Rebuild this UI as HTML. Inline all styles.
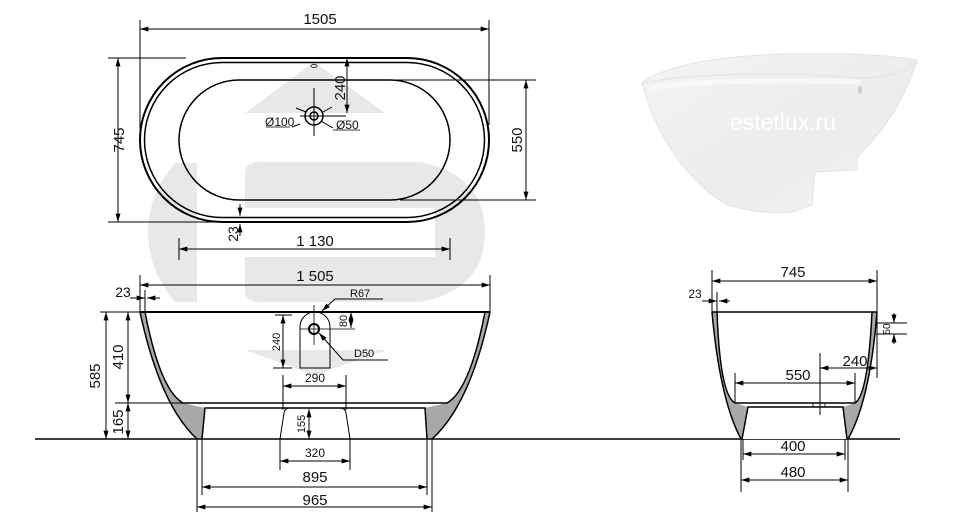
<!DOCTYPE html>
<html><head><meta charset="utf-8"><style>
html,body{margin:0;padding:0;background:#fff;}
svg{display:block;}
text{font-family:"Liberation Sans",sans-serif;fill:#111;}
</style></head><body>
<svg width="964" height="512" viewBox="0 0 964 512" xmlns="http://www.w3.org/2000/svg">
<defs>
<marker id="a" viewBox="0 0 10 6" refX="10" refY="3" markerWidth="10" markerHeight="5" markerUnits="userSpaceOnUse" orient="auto-start-reverse"><path d="M0,0 L10,3 L0,6 z" fill="#000"/></marker>
<linearGradient id="tub" x1="0" y1="0" x2="1" y2="1"><stop offset="0" stop-color="#f4f4f4"/><stop offset="0.6" stop-color="#ececec"/><stop offset="1" stop-color="#f7f7f7"/></linearGradient>
</defs>

<!-- watermark -->
<g fill="#e8e8e8">
<path d="M245,113 L314,62 L385,113 Z"/>
<path d="M197,163 L197,302 L175,302 Q148,270 148,232 Q148,195 175,163 Z"/>
<path d="M245,175 Q245,162 258,162 L420,162 Q485,175 485,232 Q485,290 420,302 L258,302 Q245,302 245,290 Z"/>
<path d="M245,350 L387,350 L314,375 Z"/>
</g>
<rect x="245" y="208" width="190" height="49" fill="#fff"/>

<g stroke="#000" fill="none">
<!-- top view -->
<rect x="140" y="58" width="349" height="164" rx="82" stroke-width="2"/>
<rect x="144.5" y="62.5" width="340" height="155" rx="77.5" stroke-width="1.5"/>
<rect x="179" y="80" width="271" height="120" rx="60" stroke-width="1.5"/>
<circle cx="314" cy="116" r="9" stroke-width="1.5"/>
<circle cx="314" cy="116" r="4" stroke-width="1.5"/>
<path d="M314,88 V136 M300,116 H346" stroke-width="1"/>
<path d="M296,108 L306,112 M332,107 L323,112 M300,124 L292,127 M321,121 L333,128" stroke-width="1"/>
<path d="M266,127 H290 M333,130 H360" stroke-width="0.8"/>
<ellipse cx="314" cy="66" rx="3" ry="1.5" stroke-width="0.8"/>
<g stroke-width="1">
<path d="M140,20 V140 M489,20 V125"/>
<path d="M140,29 H489" marker-start="url(#a)" marker-end="url(#a)"/>
<path d="M108,58 H186 M108,222 H400"/>
<path d="M118,58 V222" marker-start="url(#a)" marker-end="url(#a)"/>
<path d="M300,80 H536 M400,200 H536"/>
<path d="M526,80 V200" marker-start="url(#a)" marker-end="url(#a)"/>
<path d="M347,58 V113" marker-start="url(#a)" marker-end="url(#a)"/>
<path d="M240,204 V216" marker-end="url(#a)"/>
<path d="M240,236 V224" marker-end="url(#a)"/>
<path d="M179,238 V260 M450,238 V260"/>
<path d="M179,249 H450" marker-start="url(#a)" marker-end="url(#a)"/>
</g>
</g>
<text x="320" y="24" font-size="15" text-anchor="middle">1505</text>
<text transform="translate(124,140) rotate(-90)" font-size="15" text-anchor="middle">745</text>
<text transform="translate(522,140) rotate(-90)" font-size="15" text-anchor="middle">550</text>
<text transform="translate(345,88) rotate(-90)" font-size="15" text-anchor="middle">240</text>
<text transform="translate(238,234) rotate(-90)" font-size="14" text-anchor="middle">23</text>
<text x="315" y="246" font-size="15" text-anchor="middle">1 130</text>
<text x="265" y="126" font-size="12">Ø100</text>
<text x="336" y="129" font-size="12">Ø50</text>

<!-- front view -->
<path d="M140,312 Q160,405 197,439 L432,439 Q470,405 490,312 L485,312 Q470,390 447,403 L183,403 Q160,390 145,312 Z" fill="#a8a8a8"/>
<path d="M183,403 L447,403 L425,408 L427,439 L202,439 L205,408 Z" fill="#fff"/>
<g stroke="#000" fill="none">
<path d="M140,312 Q160,405 197,439 M490,312 Q470,405 432,439" stroke-width="1.5"/>
<path d="M145,312 Q160,390 183,403 L447,403 Q470,390 485,312" stroke-width="1.5"/>
<path d="M140,312 H490" stroke-width="2"/>
<path d="M202,439 L205,408 L425,408 L427,439" stroke-width="1.5"/>
<path d="M35,439 H900" stroke-width="1.5"/>
<path d="M300,368 V327 A15,15 0 0 1 330,327 V368 Z" stroke-width="1"/>
<circle cx="314" cy="329" r="5" stroke-width="2"/>
<path d="M314,305 V345 M300,329 H355" stroke-width="0.8"/>
<path d="M280,439 L284,413 Q285,408 290,408 M350,439 L346,413 Q345,408 340,408" stroke-width="1"/>
<g stroke-width="1">
<path d="M140,275 V312 M490,275 V312"/>
<path d="M140,285 H490" marker-start="url(#a)" marker-end="url(#a)"/>
<path d="M145,290 V312"/>
<path d="M130,298 H145" marker-end="url(#a)"/>
<path d="M160,298 H147" marker-end="url(#a)"/>
<path d="M100,312 H140 M115,403 H185"/>
<path d="M106,312 V439" marker-start="url(#a)" marker-end="url(#a)"/>
<path d="M128,312 V403" marker-start="url(#a)" marker-end="url(#a)"/>
<path d="M128,403 V439" marker-start="url(#a)" marker-end="url(#a)"/>
<path d="M275,315 H292 M273,368 H292"/>
<path d="M283,315 V368" marker-start="url(#a)" marker-end="url(#a)"/>
<path d="M330,312 H356"/>
<path d="M351,312 V328" marker-start="url(#a)" marker-end="url(#a)"/>
<path d="M383,299 H335 L322,311" marker-end="url(#a)"/>
<path d="M388,360 H343 L319,333" marker-end="url(#a)"/>
<path d="M283,375 V410 M346,375 V410"/>
<path d="M283,386 H346" marker-start="url(#a)" marker-end="url(#a)"/>
<path d="M309,409 V439" marker-start="url(#a)" marker-end="url(#a)"/>
<path d="M280,439 V470 M350,439 V470"/>
<path d="M280,461 H350" marker-start="url(#a)" marker-end="url(#a)"/>
<path d="M202,439 V495 M427,439 V495 M197,439 V512 M432,439 V512"/>
<path d="M202,487 H427" marker-start="url(#a)" marker-end="url(#a)"/>
<path d="M197,507 H432" marker-start="url(#a)" marker-end="url(#a)"/>
</g>
</g>
<text x="315" y="281" font-size="15" text-anchor="middle">1 505</text>
<text x="123" y="297" font-size="14" text-anchor="middle">23</text>
<text transform="translate(100,376) rotate(-90)" font-size="15" text-anchor="middle">585</text>
<text transform="translate(123,357) rotate(-90)" font-size="15" text-anchor="middle">410</text>
<text transform="translate(123,422) rotate(-90)" font-size="15" text-anchor="middle">165</text>
<text transform="translate(280,342) rotate(-90)" font-size="11" text-anchor="middle">240</text>
<text transform="translate(347,321) rotate(-90)" font-size="11" text-anchor="middle">80</text>
<text x="350" y="297" font-size="11">R67</text>
<text x="354" y="357" font-size="11">D50</text>
<text x="315" y="382" font-size="12" text-anchor="middle">290</text>
<text transform="translate(305,424) rotate(-90)" font-size="11" text-anchor="middle">155</text>
<text x="315" y="457" font-size="12" text-anchor="middle">320</text>
<text x="315" y="482" font-size="15" text-anchor="middle">895</text>
<text x="315" y="505" font-size="15" text-anchor="middle">965</text>

<!-- side view -->
<path d="M712,312 Q720,400 741,439 L848,439 Q870,400 877,312 L872,312 Q868,395 855,403 L735,403 Q720,395 717,312 Z" fill="#a8a8a8"/>
<path d="M735,403 L855,403 L843,407 L847,439 L742,439 L748,407 Z" fill="#fff"/>
<g stroke="#000" fill="none">
<path d="M712,312 Q720,400 741,439 M877,312 Q870,400 848,439" stroke-width="1.5"/>
<path d="M717,312 Q720,395 735,403 L855,403 Q868,395 872,312" stroke-width="1.5"/>
<path d="M712,312 H877" stroke-width="1.5"/>
<path d="M742,439 L748,407 L843,407 L847,439" stroke-width="1.5"/>
<rect x="813" y="403" width="12" height="4" stroke-width="0.8"/>
<g stroke-width="1">
<path d="M712,270 V312 M877,270 V378"/>
<path d="M712,281 H877" marker-start="url(#a)" marker-end="url(#a)"/>
<path d="M717,292 V312"/>
<path d="M702,301 H717" marker-end="url(#a)"/>
<path d="M730,301 H719" marker-end="url(#a)"/>
<path d="M876,323 H907 M876,334 H907"/>
<path d="M894,313 V323" marker-end="url(#a)"/>
<path d="M894,344 V334" marker-end="url(#a)"/>
<path d="M820,353 V415"/>
<path d="M820,368 H877" marker-start="url(#a)" marker-end="url(#a)"/>
<path d="M735,373 V403 M855,373 V403"/>
<path d="M735,383 H855" marker-start="url(#a)" marker-end="url(#a)"/>
<path d="M743,439 V460 M845,439 V460 M741,439 V492 M848,439 V492"/>
<path d="M743,454 H845" marker-start="url(#a)" marker-end="url(#a)"/>
<path d="M741,480 H848" marker-start="url(#a)" marker-end="url(#a)"/>
</g>
</g>
<text x="793" y="277" font-size="15" text-anchor="middle">745</text>
<text x="695" y="298" font-size="12" text-anchor="middle">23</text>
<text transform="translate(890,329) rotate(-90)" font-size="10" text-anchor="middle">50</text>
<text x="855" y="366" font-size="15" text-anchor="middle">240</text>
<text x="798" y="380" font-size="15" text-anchor="middle">550</text>
<text x="793" y="451" font-size="15" text-anchor="middle">400</text>
<text x="793" y="477" font-size="15" text-anchor="middle">480</text>

<!-- photo -->
<path d="M642,83 C655,135 690,185 728,205 Q760,215 792,212 L812,205 L815,172 L857,170 L857,157 C885,130 905,100 917,60 C880,52 760,50 700,62 C670,68 650,75 642,83 Z" fill="url(#tub)" stroke="#e4e4e4" stroke-width="1"/>
<path d="M642,83 C700,72 800,72 860,78 C890,78 910,70 917,60" fill="none" stroke="#e6e6e6" stroke-width="1.5"/>
<path d="M650,88 C700,80 780,80 860,82" fill="none" stroke="#f8f8f8" stroke-width="5"/>
<ellipse cx="860" cy="90" rx="2" ry="4" fill="#ccc"/>
<text x="783" y="130" font-size="23" text-anchor="middle" style="fill:#fff">estetlux.ru</text>
</svg>
</body></html>
